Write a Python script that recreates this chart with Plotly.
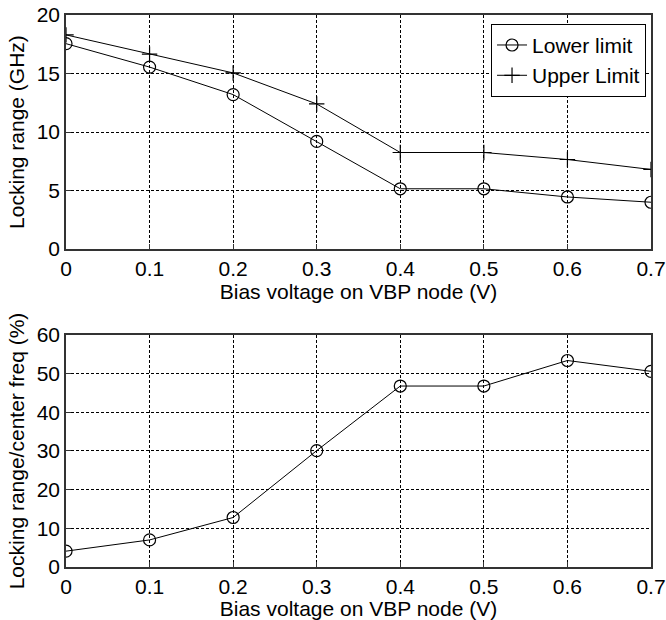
import plotly.graph_objects as go

bias_v = [0, 0.1, 0.2, 0.3, 0.4, 0.5, 0.6, 0.7]
lower_limit = [17.55, 15.55, 13.2, 9.2, 5.15, 5.15, 4.45, 4.0]
upper_limit = [18.3, 16.65, 15.05, 12.4, 8.25, 8.25, 7.65, 6.8]
ratio_pct = [4.1, 7.0, 12.8, 30.1, 46.8, 46.8, 53.4, 50.6]

FONT = "Liberation Sans, Arial, sans-serif"
FS = 21

fig = go.Figure()
fig.add_trace(go.Scatter(
    x=bias_v, y=lower_limit, name="Lower limit", mode="lines+markers",
    line=dict(color="black", width=1),
    marker=dict(symbol="circle-open", size=12, color="black", line=dict(width=1.2, color="black")),
    xaxis="x", yaxis="y"))
fig.add_trace(go.Scatter(
    x=bias_v, y=upper_limit, name="Upper Limit", mode="lines+markers",
    line=dict(color="black", width=1),
    marker=dict(symbol="cross-thin-open", size=11, color="black", line=dict(width=1.2, color="black")),
    xaxis="x", yaxis="y"))
fig.add_trace(go.Scatter(
    x=bias_v, y=ratio_pct, name="ratio", mode="lines+markers", showlegend=False,
    line=dict(color="black", width=1),
    marker=dict(symbol="circle-open", size=12, color="black", line=dict(width=1.2, color="black")),
    xaxis="x2", yaxis="y2"))

axis_common = dict(
    showline=True, linecolor="#333333", linewidth=1.5, mirror=True,
    showgrid=True, gridcolor="black", gridwidth=1, griddash="3px,2px",
    ticks="inside", ticklen=5, tickcolor="#333333",
    zeroline=False, automargin=False,
    tickfont=dict(family=FONT, size=FS, color="black"),
)
tfont = dict(family=FONT, size=FS, color="black")

fig.update_layout(
    template="none",
    width=666, height=620,
    margin=dict(l=66, r=15, t=15, b=53),
    paper_bgcolor="white", plot_bgcolor="white",
    font=dict(family=FONT, size=FS, color="black"),
    showlegend=True,
    legend=dict(
        x=0.9915, y=0.984, xanchor="right", yanchor="top",
        bgcolor="white", bordercolor="black", borderwidth=1,
        font=dict(family=FONT, size=FS, color="black"),
        tracegroupgap=0, itemwidth=30,
    ),
    xaxis=dict(axis_common, domain=[0, 1], range=[0, 0.7], dtick=0.1, anchor="y",
               title=dict(text="Bias voltage on VBP node (V)", standoff=0, font=tfont)),
    yaxis=dict(axis_common, domain=[0.576, 1], range=[0, 20], dtick=5, anchor="x",
               title=dict(text="Locking range (GHz)", standoff=6, font=tfont)),
    xaxis2=dict(axis_common, domain=[0, 1], range=[0, 0.7], dtick=0.1, anchor="y2",
                title=dict(text="Bias voltage on VBP node (V)", standoff=0, font=tfont)),
    yaxis2=dict(axis_common, domain=[0, 0.4203], range=[0, 60], dtick=10, anchor="x2",
                title=dict(text="Locking range/center freq (%)", standoff=6, font=tfont)),
)

fig.write_html("out.html", config={"displayModeBar": False},
               post_script="document.body.style.margin='0';document.body.style.overflow='hidden';")
